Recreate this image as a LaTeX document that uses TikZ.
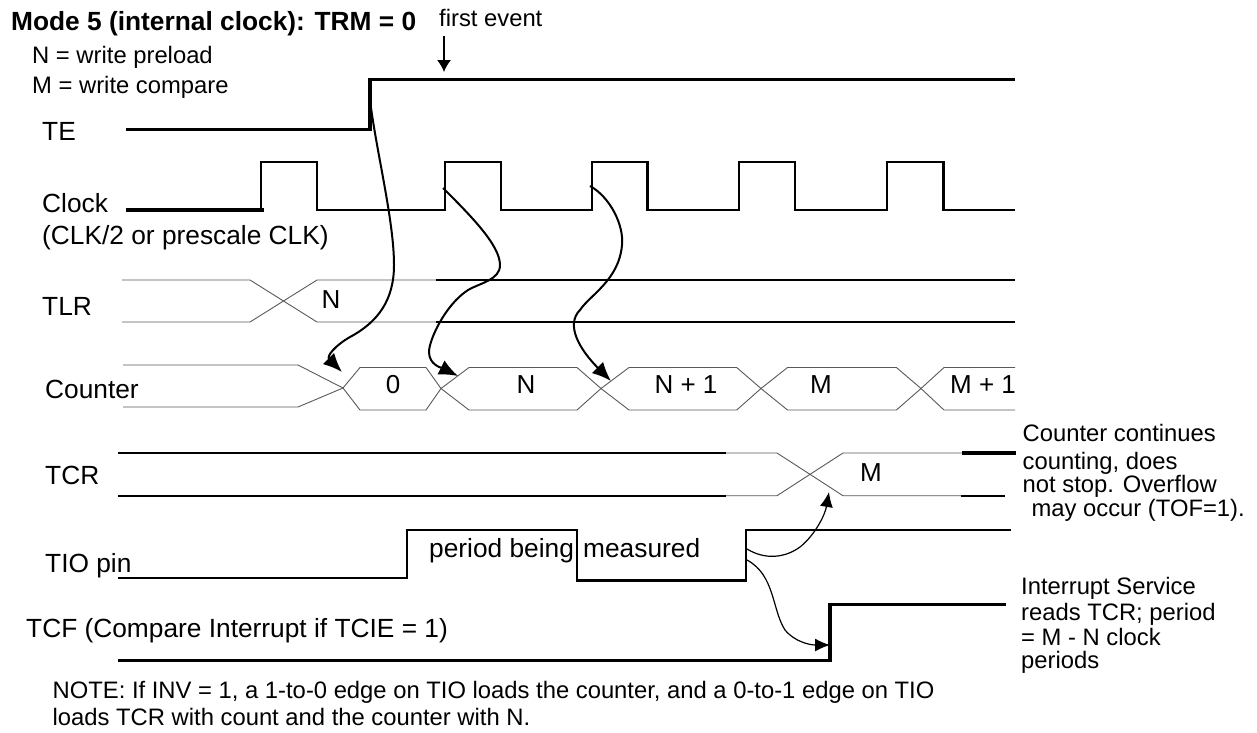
\documentclass[tikz,border=0pt]{standalone}
\usepackage{fontspec}
\setmainfont{Liberation Sans}
\usetikzlibrary{arrows.meta}

\tikzset{
  lbl/.style={anchor=base west,inner sep=0pt,font=\fontsize{26.3}{30}\selectfont},
  txt/.style={anchor=base west,inner sep=0pt,font=\fontsize{23.8}{28}\selectfont},
  val/.style={anchor=base,inner sep=0pt,font=\fontsize{26}{30}\selectfont},
  hvy/.style={line width=3.4pt},
  sig/.style={line width=2.4pt},
  bus/.style={line width=0.9pt,black!65},
  curve/.style={line width=2pt,-{Latex[length=19pt,width=16pt]}},
  thincurve/.style={line width=1.2pt,-{Latex[length=15pt,width=13pt]}}
}

\begin{document}
\begin{tikzpicture}[
    x=1pt,y=-1pt,
    line cap=butt,
    line join=miter
]
\useasboundingbox (0,0) rectangle (1257,732);

%-----------------------
% 1) HEADINGS
%-----------------------
\node[lbl,font=\fontsize{26.3}{30}\selectfont\bfseries] (title) at (11,30) {Mode 5 (internal clock): TRM = 0};
\node[txt] (firstevent) at (439,26) {first event};
\node[txt] (keyn) at (32,63) {N = write preload};
\node[txt] (keym) at (32,93) {M = write compare};

\coordinate (eventtop) at (444,36);
\coordinate (eventtip) at (444,72);
\draw[line width=1.4pt,-{Latex[length=12pt,width=14pt]}] (eventtop) -- (eventtip);

%-----------------------
% 2) TE
%-----------------------
\node[lbl] (te) at (42,140.5) {TE};
\draw[hvy] (126,129.3) -- (370,129.3) -- (370,79.3) -- (1015,79.3);

%-----------------------
% 3) CLOCK
%-----------------------
\node[lbl] (clock) at (42,212) {Clock};
\node[lbl] (clocknote) at (42,244) {(CLK/2 or prescale CLK)};
\draw[hvy] (126,210) -- (264,210);
\draw[sig] (261,210) -- (261,162) -- (317,162) -- (317,210) -- (445,210) -- (445,162)
  -- (501,162) -- (501,210) -- (592,210) -- (592,162) -- (647.6,162) -- (647.6,210)
  -- (738.7,210) -- (738.7,162) -- (795,162) -- (795,210) -- (887,210) -- (887,162)
  -- (943.6,162) -- (943.6,210) -- (1015,210);

%-----------------------
% 4) TLR
%-----------------------
\node[lbl] (tlr) at (42,315) {TLR};
\node[val] (tlrn) at (331,308) {N};
\draw[bus] (122,280) -- (250,280) -- (317,322) -- (436,322);
\draw[bus] (122,322) -- (250,322) -- (317,280) -- (436,280);
\draw[sig] (436,280) -- (1015,280);
\draw[sig] (436,322) -- (1015,322);

%-----------------------
% 5) COUNTER
%-----------------------
\node[lbl] (counter) at (45,398) {Counter};
\draw[bus] (123,365) -- (298,365) -- (343,388) -- (360,367.5) -- (426,367.5) -- (441,388.5)
  -- (469,367.5) -- (577,367.5) -- (601,388.5) -- (629,367.5) -- (736.7,367.5) -- (761,388.5)
  -- (787.5,367.5) -- (896.4,367.5) -- (921,388.5) -- (944,367.5) -- (1015,367.5);
\draw[bus] (123,407) -- (298,407) -- (343,388) -- (360,410) -- (426,410) -- (441,388.5)
  -- (469,410) -- (577,410) -- (601,388.5) -- (629,410) -- (736.7,410) -- (761,388.5)
  -- (787.5,410) -- (896.4,410) -- (921,388.5) -- (944,410) -- (1015,410);
\node[val] (cnt0) at (393,393) {0};
\node[val] (cntn) at (526,393) {N};
\node[val] (cntn1) at (686,393) {N + 1};
\node[val] (cntm) at (821,393) {M};
\node[val] (cntm1) at (983,393) {M + 1};

%-----------------------
% 6) TCR
%-----------------------
\node[lbl] (tcr) at (45,484) {TCR};
\node[val] (tcrm) at (871,481.5) {M};
\draw[sig] (118,453) -- (726,453);
\draw[sig] (118,495.7) -- (726,495.7);
\draw[bus] (726,453) -- (777,453) -- (843,495.7) -- (962,495.7);
\draw[bus] (726,495.7) -- (777,495.7) -- (843,453) -- (962,453);
\draw[hvy] (962,453) -- (1016,453);
\draw[sig] (961,495.7) -- (1005,495.7);

%-----------------------
% 7) TIO PIN
%-----------------------
\node[lbl] (tio) at (45,572.5) {TIO pin};
\node[lbl] (period) at (429,557) {period being};
\node[lbl] (measured) at (583,557) {measured};
\draw[sig] (118,577.7) -- (407,577.7) -- (407,530) -- (577,530) -- (577,580.3) -- (746,580.3)
  -- (746,530) -- (1011,530);

%-----------------------
% 8) TCF
%-----------------------
\node[lbl] (tcf) at (26,637.5) {TCF (Compare Interrupt if TCIE = 1)};
\draw[hvy] (118,660.3) -- (830,660.3) -- (830,604.3) -- (1006,604.3);

%-----------------------
% 9) NOTES
%-----------------------
\node[txt] (contone) at (1022.5,441.5) {Counter continues};
\node[txt] (conttwo) at (1022.5,469) {counting, does};
\node[txt] (contthree) at (1022.5,492.5) {not stop. Overflow};
\node[txt] (contfour) at (1031.4,516.5) {may occur (TOF=1).};

\node[txt] (isrone) at (1021,594) {Interrupt Service};
\node[txt] (isrtwo) at (1021,620.5) {reads TCR; period};
\node[txt] (isrthree) at (1021,645) {= M - N clock};
\node[txt] (isrfour) at (1021,668) {periods};

\node[txt] (noteone) at (52.5,698) {NOTE: If INV = 1, a 1-to-0 edge on TIO loads the counter, and a 0-to-1 edge on TIO};
\node[txt] (notetwo) at (52.5,725) {loads TCR with count and the counter with N.};

%-----------------------
% 10) CAUSE ARROWS
%-----------------------
\draw[curve] (370,100) .. controls (376,150) and (394,220) .. (394,265)
  .. controls (394,300) and (378,322) .. (350,337)
  .. controls (336,345) and (326,356) .. (342,372);
\draw[curve] (443,188) .. controls (470,215) and (500,245) .. (500,265)
  .. controls (500,280) and (480,283) .. (468,290)
  .. controls (445,305) and (429,340) .. (429,352)
  .. controls (429,365) and (442,368) .. (458,376);
\draw[curve] (590,186) .. controls (610,197) and (624,225) .. (622,245)
  .. controls (619,280) and (590,295) .. (580,310)
  .. controls (565,325) and (580,350) .. (611,381);
\draw[thincurve] (747,549) .. controls (765,560) and (785,558) .. (800,547)
  .. controls (815,535) and (825,515) .. (829,492);
\draw[thincurve] (747,560) .. controls (775,575) and (772,610) .. (785,630)
  .. controls (795,642) and (810,645) .. (830,645);

\end{tikzpicture}
\end{document}
